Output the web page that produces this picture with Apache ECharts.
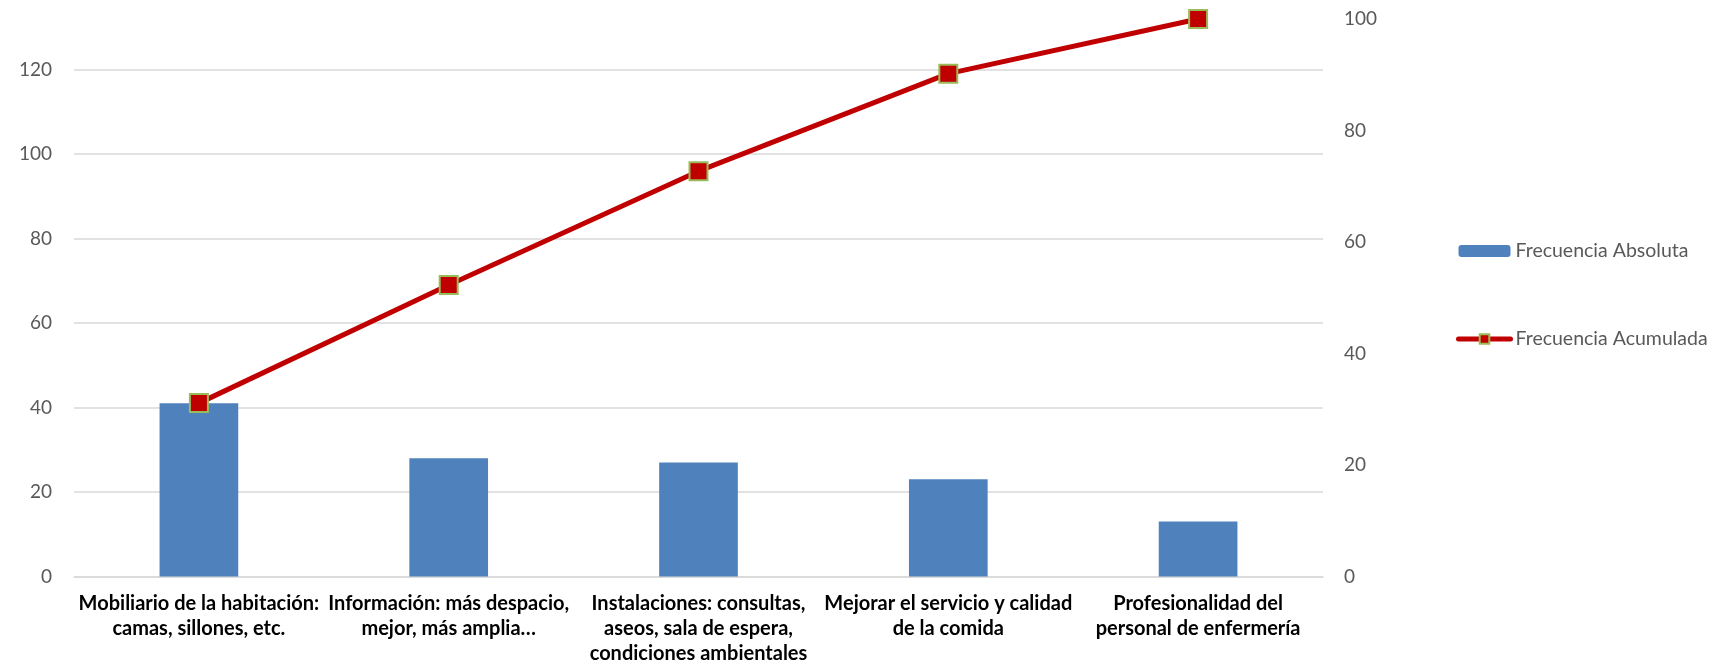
<!DOCTYPE html>
<html>
<head>
<meta charset="utf-8">
<script src="https://cdn.jsdelivr.net/npm/echarts@6/dist/echarts.min.js"></script>
<style>
html,body{margin:0;padding:0;background:#fff;}
#chart{width:1724px;height:669px;}
</style>
</head>
<body>
<div id="chart"></div>
<script>
const categories = [
  "Mobiliario de la habitación:\ncamas, sillones, etc.",
  "Información: más despacio,\nmejor, más amplia…",
  "Instalaciones: consultas,\naseos, sala de espera,\ncondiciones ambientales",
  "Mejorar el servicio y calidad\nde la comida",
  "Profesionalidad del\npersonal de enfermería"
];
const frecuenciaAbsoluta = [41, 28, 27, 23, 13];
const frecuenciaAcumulada = [31.1, 52.3, 72.7, 90.2, 100];
const leftAxisMax = 132;
const rightAxisMax = 100;

const FONT = 'Lato, "Open Sans", sans-serif';
const chart = echarts.init(document.getElementById('chart'), null, {renderer: 'canvas'});
chart.setOption({
  animation: false,
  backgroundColor: '#ffffff',
  textStyle: {fontFamily: FONT},
  grid: {left: 74, right: 401, top: 19, bottom: 92.5, containLabel: false},
  legend: {
    orient: 'vertical',
    left: 1456,
    top: 241,
    padding: 0,
    itemWidth: 52,
    itemHeight: 12,
    itemGap: 68,
    textStyle: {fontFamily: FONT, fontSize: 19.5, color: '#595959'},
    data: [
      {name: 'Frecuencia Absoluta'},
      {name: 'Frecuencia Acumulada', lineStyle: {width: 5, color: '#C00000'}}
    ]
  },
  xAxis: {
    type: 'category',
    data: categories,
    axisLine: {show: true, lineStyle: {color: '#D9D9D9', width: 1.5}},
    axisTick: {show: false},
    axisLabel: {
      interval: 0,
      margin: 15,
      fontFamily: FONT,
      fontSize: 20,
      fontWeight: 'bold',
      color: '#000000',
      lineHeight: 25,
      align: 'center'
    }
  },
  yAxis: [
    {
      type: 'value',
      min: 0,
      max: leftAxisMax,
      interval: 20,
      axisLine: {show: false},
      axisTick: {show: false},
      splitLine: {show: true, showMaxLine: false, lineStyle: {color: '#D9D9D9', width: 1.5}},
      axisLabel: {
        margin: 22,
        fontFamily: FONT,
        fontSize: 19,
        color: '#595959',
        showMaxLabel: false,
        formatter: v => (v % 20 === 0 ? String(v) : '')
      }
    },
    {
      type: 'value',
      min: 0,
      max: rightAxisMax,
      interval: 20,
      position: 'right',
      axisLine: {show: false},
      axisTick: {show: false},
      splitLine: {show: false},
      axisLabel: {
        margin: 21,
        fontFamily: FONT,
        fontSize: 19,
        color: '#595959'
      }
    }
  ],
  series: [
    {
      name: 'Frecuencia Absoluta',
      type: 'bar',
      yAxisIndex: 0,
      data: frecuenciaAbsoluta,
      barWidth: '31.5%',
      itemStyle: {color: '#4F81BD'},
      z: 2
    },
    {
      name: 'Frecuencia Acumulada',
      type: 'line',
      yAxisIndex: 1,
      data: frecuenciaAcumulada,
      symbol: 'rect',
      symbolSize: 18,
      lineStyle: {color: '#C00000', width: 5, cap: 'round'},
      itemStyle: {color: '#C00000', borderColor: '#9BBB59', borderWidth: 2},
      z: 5
    }
  ]
});
</script>
</body>
</html>
